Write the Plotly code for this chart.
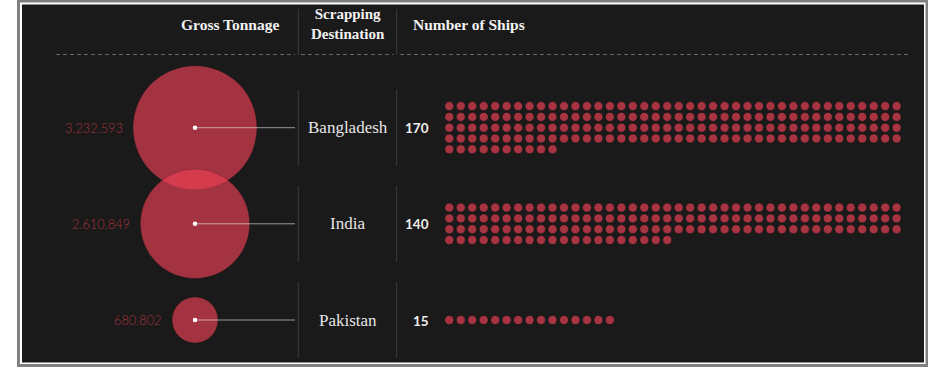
import math
import plotly.graph_objects as go

# ---- data ----
countries = ["Bangladesh", "India", "Pakistan"]
gross_tonnage = [3232593, 2610849, 680802]
tonnage_labels = ["3.232.593", "2.610.849", "680.802"]
ships = [170, 140, 15]
headers = ["Gross Tonnage", "Scrapping<br>Destination", "Number of Ships"]

# ---- layout constants (pixels) ----
W, H = 934, 384
BG = "#1a1a1a"
row_y = [127.7, 223.8, 320.0]
circle_x = 195
sep1, sep2 = 298.3, 396.7
dots_x0, dot_dx, dot_dy, per_row = 449.3, 11.47, 10.8, 40
dot_color = "#a83442"

# sqrt scale for circle radius
def radius(v):
    return 0.0401 * math.sqrt(v) - 10.1

fig = go.Figure()

shapes = []
# frame
shapes.append(dict(type="rect", x0=17, x1=928, y0=0, y1=367, fillcolor="#808080", line_width=0, layer="below"))
shapes.append(dict(type="rect", x0=20, x1=925.5, y0=2.5, y1=364, fillcolor="#ffffff", line_width=0, layer="below"))
shapes.append(dict(type="rect", x0=22, x1=924, y0=4.5, y1=362.5, fillcolor=BG, line_width=0, layer="below"))
# header separators
for sx in (sep1, sep2):
    shapes.append(dict(type="line", x0=sx, x1=sx, y0=9, y1=55, line=dict(color="#3c3c3c", width=1), layer="below"))
# dashed line
for a, b in [(56, 295), (301, 393), (400, 911)]:
    shapes.append(dict(type="line", x0=a, x1=b, y0=54.5, y1=54.5, line=dict(color="#6a6a6a", width=1, dash="4px,3px"), layer="below"))
# row separators
for y in row_y:
    for sx in (sep1, sep2):
        shapes.append(dict(type="line", x0=sx, x1=sx, y0=y - 38, y1=y + 38, line=dict(color="#3c3c3c", width=1), layer="below"))

# circles (one trace per circle so overlaps blend)
radii = [radius(v) for v in gross_tonnage]
for y, r in zip(row_y, radii):
    fig.add_trace(go.Scatter(
        x=[circle_x], y=[y], mode="markers",
        marker=dict(size=2 * r, color="rgb(240,66,86)", opacity=0.64,
                    line=dict(color="rgba(0,0,0,0.35)", width=0.8)),
        hoverinfo="skip", showlegend=False))

# connector lines
for y in row_y:
    fig.add_trace(go.Scatter(x=[circle_x, 295], y=[y, y], mode="lines",
                             line=dict(color="rgba(235,235,235,0.6)", width=1),
                             hoverinfo="skip", showlegend=False))
# center dots
fig.add_trace(go.Scatter(x=[circle_x] * 3, y=row_y, mode="markers",
                         marker=dict(size=4.5, color="#ffffff"),
                         hoverinfo="skip", showlegend=False))

# ship dots
dx, dy = [], []
for n, yc in zip(ships, row_y):
    nrows = math.ceil(n / per_row)
    top = yc - (nrows - 1) * dot_dy / 2
    for i in range(n):
        dx.append(dots_x0 + (i % per_row) * dot_dx)
        dy.append(top + (i // per_row) * dot_dy)
fig.add_trace(go.Scatter(x=dx, y=dy, mode="markers",
                         marker=dict(size=9, color=dot_color, opacity=1, line=dict(color="#141414", width=0.6)),
                         hoverinfo="skip", showlegend=False))

ann = []
serif = "Liberation Serif"
# headers
ann.append(dict(x=281, y=24, text=f"<b>{headers[0]}</b>", xanchor="right", yanchor="middle",
                font=dict(family=serif, size=15.5, color="#f2f2f2")))
ann.append(dict(x=347.5, y=24, text=f"<b>{headers[1]}</b>", xanchor="center", yanchor="middle",
                font=dict(family=serif, size=15, color="#f2f2f2")))
ann.append(dict(x=411, y=24, text=f"<b>{headers[2]}</b>", xanchor="left", yanchor="middle",
                font=dict(family=serif, size=15.5, color="#f2f2f2")))

for c, lab, n, y, r in zip(countries, tonnage_labels, ships, row_y, radii):
    ann.append(dict(x=circle_x - r - 8.5, y=y, text=lab, xanchor="right", yanchor="middle",
                    font=dict(family="Lato", size=12.8, color="#a3323f", weight=300)))
    ann.append(dict(x=347.5, y=y, text=c, xanchor="center", yanchor="middle",
                    font=dict(family=serif, size=17, color="#e6e6e6")))
    ann.append(dict(x=430.5, y=y + 0.5, text=f"<b>{n}</b>", xanchor="right", yanchor="middle",
                    font=dict(family="Lato", size=13.5, color="#eeeeee")))

for a in ann:
    a.update(xref="x", yref="y", showarrow=False)

fig.update_layout(
    width=W, height=H, margin=dict(l=0, r=0, t=0, b=0), autosize=False,
    paper_bgcolor="#ffffff", plot_bgcolor="#ffffff",
    xaxis=dict(range=[0, W], visible=False, fixedrange=True),
    yaxis=dict(range=[H, 0], visible=False, fixedrange=True),
    shapes=shapes, annotations=ann, showlegend=False,
)
fig.write_html("out.html", config={"displayModeBar": False})
